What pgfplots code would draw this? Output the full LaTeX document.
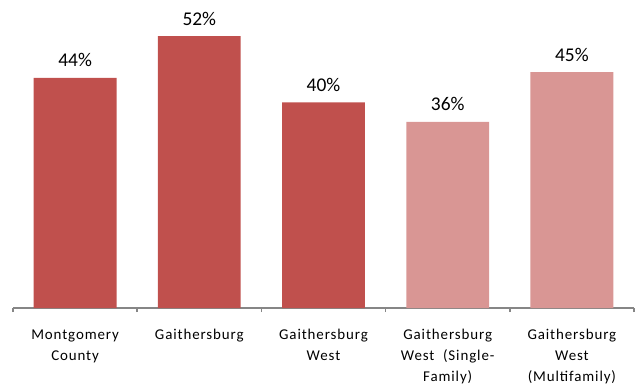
\documentclass[border=0pt]{standalone}
\usepackage{fontspec}
\setmainfont{Carlito}
\newfontfamily\tickfont[LetterSpace=6]{Carlito}
\usepackage{pgfplots}
\pgfplotsset{compat=1.18}
\definecolor{dark}{HTML}{C0504D}
\definecolor{light}{HTML}{D99694}
\definecolor{axisgray}{HTML}{868686}
\begin{document}
\begin{tikzpicture}
\begin{axis}[
  scale only axis, width=621bp, height=308bp,
  xmin=-0.5, xmax=4.5, ymin=0, ymax=58.9,
  axis y line=none, axis x line*=bottom,
  x axis line style={axisgray, line width=1.5bp},
  xtick={0,...,4},
  xticklabels={{Montgomery\\County},{Gaithersburg},{Gaithersburg\\West},{Gaithersburg\\West\ \ (Single-\\Family)},{Gaithersburg\\West\\(Multifamily)}},
  major tick length=0pt,
  minor xtick={-0.5,0.5,...,4.5},
  minor tick length=4bp,
  tick align=outside,
  minor tick style={axisgray, line width=1.5bp},
  xticklabel style={font=\tickfont\fontsize{15}{21}\selectfont, align=center, anchor=north, yshift=-18bp},
  ybar, bar width=0.667, bar shift=0pt,
  point meta=explicit symbolic,
  nodes near coords={\pgfplotspointmeta\%},
  every node near coord/.append style={font=\fontsize{19.5}{22}\selectfont, anchor=base, yshift=11bp, text=black},
]
\addplot[fill=dark, draw=none] coordinates {(0,44.0) [44] (1,52.0) [52] (2,39.3) [40]};
\addplot[fill=light, draw=none] coordinates {(3,35.6) [36] (4,45.1) [45]};
\end{axis}
\path (current axis.south west) ++(-13bp,-79bp) rectangle ([xshift=2bp]current axis.north east);
\end{tikzpicture}
\end{document}
